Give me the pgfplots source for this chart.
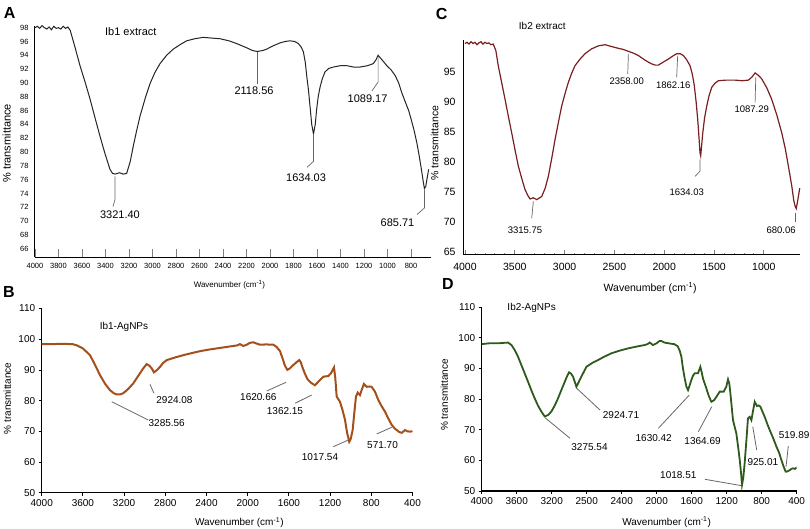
\documentclass[border=0pt]{standalone}
\usepackage{fontspec}
\setmainfont{Liberation Sans}
\usepackage{pgfplots}
\pgfplotsset{compat=1.18}
\definecolor{curveA}{HTML}{2A2222}
\definecolor{curveC}{HTML}{7A1F1F}
\definecolor{curveB}{HTML}{A5501A}
\definecolor{curveD}{HTML}{2E5A1C}
\definecolor{lead}{HTML}{666666}
\pgfplotsset{
  every axis/.append style={scale only axis, clip=false,
    axis x line*=bottom, axis y line*=left,
    /pgf/number format/1000 sep={},
    /pgf/number format/assume math mode=true,
    x dir=reverse},
}
\begin{document}
\begin{tikzpicture}
\useasboundingbox (0pt,0pt) rectangle (810pt,-529pt);

% ---------------- Panel A ----------------
\begin{axis}[at={(35pt,-257pt)}, anchor=south west, width=396pt, height=231.4pt,
  xmin=630, xmax=4000, ymin=64.8, ymax=98.3,
  axis line style={-, line width=1pt},
  xtick={800,1000,...,4000}, ytick={66,68,...,98},
  tick label style={font=\fontsize{7.5}{8}\selectfont},
  yticklabel style={xshift=-3pt},
  xticklabel style={yshift=-3pt},
  ytick style={draw=none}, xtick style={draw=gray, line width=0.8pt},
  tick align=inside, major tick length=8pt,
  xlabel={Wavenumber (cm\textsuperscript{-1})},
  xlabel style={font=\fontsize{8}{9}\selectfont, at={(axis description cs:0.491,-0.121)}, anchor=center},
  ylabel={\% transmittance},
  ylabel style={font=\fontsize{11}{12}\selectfont, at={(axis description cs:-0.0715,0.491)}, anchor=center},
]
\addplot[color=curveA, line width=1pt] coordinates {
(4000,98.0) (3980,98.2) (3960,97.9) (3940,98.3) (3920,98.0) (3900,97.8) (3880,98.1)
(3860,97.7) (3840,98.2) (3820,97.9) (3800,98.0) (3780,97.8) (3760,98.2) (3740,97.9)
(3720,98.1) (3700,97.6) (3660,95.2) (3617,92.5) (3575,90.2) (3532,87.7) (3490,85.0)
(3447,82.3) (3405,79.8) (3362,77.5) (3340,76.9) (3319,76.8) (3280,77.0) (3250,76.8)
(3220,76.9) (3190,78.6) (3163,80.9) (3135,83.1) (3106,85.2) (3060,87.9) (3021,89.9)
(2980,91.5) (2936,92.8) (2880,94.0) (2823,94.9) (2760,95.6) (2709,96.1) (2640,96.4)
(2567,96.6) (2500,96.5) (2426,96.4) (2350,96.1) (2284,95.7) (2200,95.1) (2150,94.7)
(2110,94.55) (2060,94.7) (2028,94.9) (1970,95.4) (1915,95.8) (1870,96.0) (1830,96.1)
(1790,96.0) (1759,95.7) (1735,95.2) (1716,94.5) (1700,93.0) (1688,91.1) (1673,89.0)
(1660,86.7) (1645,84.0) (1630,82.6) (1615,84.0) (1603,86.2) (1590,88.0) (1574,89.4)
(1555,90.6) (1532,91.6) (1500,92.1) (1461,92.3) (1400,92.5) (1347,92.5) (1290,92.3)
(1234,92.3) (1170,92.5) (1121,92.8) (1100,93.3) (1080,94.0) (1060,93.6) (1030,93.0)
(1006,92.5) (970,91.9) (936,91.1) (905,90.0) (879,88.6) (850,87.3) (820,86.0)
(800,84.8) (775,83.2) (750,81.3) (730,79.4) (710,77.3) (695,75.6) (686,74.7)
(675,75.0) (665,76.0) (650,77.5)};
\node[font=\fontsize{11}{12}\selectfont, inner sep=0] at (axis cs:3185,97.37) {Ib1 extract};
\draw[lead, line width=0.7pt] (axis cs:3319,76.47) -- (axis cs:3319,73.13) -- (axis cs:3336,72.11);
\node[font=\fontsize{11}{12}\selectfont, inner sep=0] at (axis cs:3277,70.95) {3321.40};
\draw[lead, line width=0.7pt] (axis cs:2111,94.5) -- (axis cs:2111,89.85);
\node[font=\fontsize{11}{12}\selectfont, inner sep=0] at (axis cs:2136,88.84) {2118.56};
\draw[lead, line width=0.7pt] (axis cs:1630,82.58) -- (axis cs:1630,78.65) -- (axis cs:1685,77.78);
\node[font=\fontsize{11}{12}\selectfont, inner sep=0] at (axis cs:1693,76.33) {1634.03};
\draw[lead, line width=0.7pt] (axis cs:1080,93.78) -- (axis cs:1080,90.15) -- (axis cs:1132,88.84);
\node[font=\fontsize{11}{12}\selectfont, inner sep=0] at (axis cs:1170,87.67) {1089.17};
\draw[lead, line width=0.7pt] (axis cs:686,74.5) -- (axis cs:686,71.9) -- (axis cs:749,70.95);
\node[font=\fontsize{11}{12}\selectfont, inner sep=0] at (axis cs:915,69.78) {685.71};
\end{axis}

% ---------------- Panel B ----------------
\begin{axis}[at={(41.7pt,-492.7pt)}, anchor=south west, width=370.8pt, height=184.2pt,
  xmin=400, xmax=4000, ymin=50, ymax=110,
  axis line style={-, line width=1.1pt},
  xtick={400,800,...,4000}, ytick={50,60,...,110},
  tick label style={font=\fontsize{10}{12}\selectfont},
  tick align=outside, major tick length=3pt, tick style={line width=0.8pt, black},
  xlabel={Wavenumber (cm\textsuperscript{-1})},
  xlabel style={font=\fontsize{10}{12}\selectfont, at={(axis description cs:0.533,-0.163)}, anchor=center},
  ylabel={\% transmittance},
  ylabel style={font=\fontsize{10}{12}\selectfont, at={(axis description cs:-0.0928,0.512)}, anchor=center},
]
\addplot[color=curveB, line width=2pt] coordinates {
(4000,98.4) (3900,98.4) (3800,98.5) (3700,98.4) (3660,98.0) (3600,97.0) (3531,94.8)
(3480,91.5) (3434,88.3) (3385,85.5) (3337,83.4) (3300,82.4) (3272,82.0) (3240,82.0)
(3208,82.4) (3160,83.8) (3111,85.6) (3060,88.2) (3014,90.5) (2981,91.9) (2955,91.4)
(2932,90.5) (2910,89.2) (2880,90.0) (2851,91.0) (2820,92.3) (2786,93.2) (2700,94.1)
(2625,94.8) (2540,95.5) (2463,96.1) (2380,96.6) (2301,97.0) (2220,97.4) (2140,97.8)
(2100,98.0) (2075,98.4) (2043,97.8) (2010,98.2) (1980,98.8) (1946,99.0) (1915,98.6)
(1880,98.2) (1820,98.3) (1751,98.2) (1720,97.5) (1686,96.1) (1660,93.6) (1640,91.5)
(1615,90.0) (1590,90.5) (1560,91.5) (1530,92.4) (1499,93.2) (1485,92.5) (1470,91.0)
(1445,88.8) (1420,87.0) (1385,85.8) (1347,85.0) (1310,86.3) (1266,87.8) (1240,87.9)
(1217,88.0) (1190,89.0) (1162,90.8) (1150,87.5) (1136,81.3) (1104,79.6) (1080,77.0)
(1055,73.7) (1035,69.5) (1014,66.6) (1000,67.5) (981,70.4) (965,76.0) (949,81.3)
(932,82.6) (910,81.8) (890,83.8) (872,85.4) (845,84.5) (820,84.6) (797,84.5)
(764,82.9) (732,80.2) (700,78.2) (667,76.4) (635,74.2) (602,72.1) (575,71.0)
(553,70.4) (530,69.8) (505,69.5) (490,69.9) (473,70.4) (450,70.0) (424,69.9) (400,70.0)};
\node[font=\fontsize{10}{12}\selectfont, inner sep=0] at (axis cs:3201,103.9) {Ib1-AgNPs};
\draw[lead, line width=0.8pt] (axis cs:3320,79.64) -- (axis cs:2965,73.68);
\node[font=\fontsize{10}{12}\selectfont, inner sep=0] at (axis cs:2786,72.61) {3285.56};
\draw[lead, line width=0.8pt] (axis cs:2949,85.31) -- (axis cs:2910,82.38);
\node[font=\fontsize{10}{12}\selectfont, inner sep=0] at (axis cs:2711,80.2) {2924.08};
\draw[lead, line width=0.8pt] (axis cs:1628,85.96) -- (axis cs:1815,83.13);
\node[font=\fontsize{10}{12}\selectfont, inner sep=0] at (axis cs:1897,81.07) {1620.66};
\draw[lead, line width=0.8pt] (axis cs:1379,81.82) -- (axis cs:1541,79.12);
\node[font=\fontsize{10}{12}\selectfont, inner sep=0] at (axis cs:1638,76.71) {1362.15};
\draw[lead, line width=0.8pt] (axis cs:1023,67.17) -- (axis cs:1169,64.98);
\node[font=\fontsize{10}{12}\selectfont, inner sep=0] at (axis cs:1298,61.73) {1017.54};
\draw[lead, line width=0.8pt] (axis cs:602,71.3) -- (axis cs:748,69.12);
\node[font=\fontsize{10}{12}\selectfont, inner sep=0] at (axis cs:691,65.54) {571.70};
\end{axis}

% ---------------- Panel C ----------------
\begin{axis}[at={(463pt,-254.8pt)}, anchor=south west, width=337.2pt, height=214.9pt,
  xmin=635, xmax=4020, ymin=64.5, ymax=100.3,
  axis line style={-, line width=1pt},
  xtick={1000,1500,...,4000}, ytick={65,70,...,95},
  minor x tick num=4,
  tick label style={font=\fontsize{10.5}{12}\selectfont},
  yticklabel style={xshift=-4pt},
  xticklabel style={yshift=-5pt},
  ytick style={draw=none}, xtick style={draw=gray, line width=0.8pt},
  tick align=inside, major tick length=5pt, minor tick length=2pt,
  xlabel={Wavenumber (cm\textsuperscript{-1})},
  xlabel style={font=\fontsize{10.5}{12}\selectfont, at={(axis description cs:0.555,-0.156)}, anchor=center},
  ylabel={\% transmittance},
  ylabel style={font=\fontsize{10.5}{12}\selectfont, at={(axis description cs:-0.0845,0.519)}, anchor=center},
]
\addplot[color=curveC, line width=1.2pt] coordinates {
(4000,99.7) (3980,99.9) (3960,99.6) (3940,100.0) (3920,99.7) (3900,99.9) (3880,99.5)
(3860,99.8) (3840,100.0) (3820,99.6) (3800,99.9) (3780,99.7) (3760,99.8) (3740,99.5)
(3716,99.6) (3690,98.5) (3666,96.0) (3632,93.2) (3598,90.4) (3565,87.6) (3531,84.8)
(3498,82.0) (3465,79.3) (3430,77.2) (3398,75.4) (3370,74.4) (3347,73.8) (3315,74.0)
(3280,73.7) (3250,74.0) (3230,74.2) (3195,75.6) (3163,77.6) (3130,80.5) (3096,83.7)
(3062,86.6) (3029,89.3) (2995,91.4) (2963,93.2) (2930,94.7) (2896,96.0) (2845,97.1)
(2795,98.0) (2730,98.8) (2662,99.3) (2594,99.5) (2530,99.2) (2461,98.9) (2410,98.7)
(2360,98.4) (2310,98.1) (2260,97.7) (2200,97.0) (2160,96.6) (2126,96.3) (2090,96.1)
(2059,96.1) (2010,96.6) (1959,97.1) (1915,97.6) (1875,98.0) (1840,98.0) (1808,97.7)
(1775,97.0) (1741,96.0) (1718,94.6) (1698,92.7) (1680,90.0) (1664,87.1) (1650,83.8)
(1641,81.5) (1634,81.0) (1625,82.6) (1613,84.8) (1595,87.3) (1573,89.3) (1550,91.0)
(1523,92.4) (1490,93.1) (1456,93.5) (1380,93.6) (1289,93.6) (1220,93.5) (1155,93.6)
(1120,94.1) (1088,94.8) (1055,94.4) (1021,93.8) (970,92.3) (921,90.4) (870,87.8)
(820,84.8) (785,82.2) (754,79.3) (720,76.0) (700,73.6) (686,72.6) (675,72.2)
(660,73.5) (640,75.6)};
\node[font=\fontsize{10}{12}\selectfont, inner sep=0] at (axis cs:3224,102.7) {Ib2 extract};
\draw[lead, line width=0.7pt] (axis cs:3314,73.39) -- (axis cs:3330,70.61);
\node[font=\fontsize{9.5}{12}\selectfont, inner sep=0] at (axis cs:3398,68.65) {3315.75};
\draw[lead, line width=0.7pt] (axis cs:2360,97.96) -- (axis cs:2366,94.61);
\node[font=\fontsize{9.5}{12}\selectfont, inner sep=0] at (axis cs:2377,93.49) {2358.00};
\draw[lead, line width=0.7pt] (axis cs:1865,97.68) -- (axis cs:1875,94.06);
\node[font=\fontsize{9.5}{12}\selectfont, inner sep=0] at (axis cs:1909,92.77) {1862.16};
\draw[lead, line width=0.7pt] (axis cs:1641,80.38) -- (axis cs:1641,78.42) -- (axis cs:1691,77.58);
\node[font=\fontsize{9.5}{12}\selectfont, inner sep=0] at (axis cs:1774,74.9) {1634.03};
\draw[lead, line width=0.7pt] (axis cs:1081,94.06) -- (axis cs:1088,89.87);
\node[font=\fontsize{9.5}{12}\selectfont, inner sep=0] at (axis cs:1122,88.75) {1087.29};
\draw[lead, line width=0.7pt] (axis cs:680,71.45) -- (axis cs:680,70.04);
\node[font=\fontsize{9.5}{12}\selectfont, inner sep=0] at (axis cs:827,68.65) {680.06};
\end{axis}

% ---------------- Panel D ----------------
\begin{axis}[at={(481.7pt,-491pt)}, anchor=south west, width=315pt, height=184pt,
  xmin=400, xmax=4000, ymin=50, ymax=110,
  axis line style={-, line width=1.1pt},
  xtick={400,800,...,4000},
  xticklabels={400,800,1200,1600,2000,2400,2500,3200,3600,4000},
  ytick={50,60,...,110},
  tick label style={font=\fontsize{10}{12}\selectfont},
  tick align=outside, major tick length=3pt, tick style={line width=0.8pt, black},
  xlabel={Wavenumber (cm\textsuperscript{-1})},
  xlabel style={font=\fontsize{10}{12}\selectfont, at={(axis description cs:0.587,-0.170)}, anchor=center},
  ylabel={\% transmittance},
  ylabel style={font=\fontsize{10}{12}\selectfont, at={(axis description cs:-0.119,0.522)}, anchor=center},
]
\addplot[color=curveD, line width=1.8pt] coordinates {
(4000,97.9) (3900,98.2) (3800,98.2) (3699,98.4) (3660,97.6) (3623,96.0) (3585,93.8)
(3547,91.1) (3508,88.3) (3470,85.6) (3432,82.8) (3394,80.2) (3356,77.8) (3318,75.9)
(3280,74.3) (3240,74.8) (3204,75.9) (3165,77.9) (3128,80.2) (3090,82.9) (3051,85.6)
(3025,87.4) (3002,88.7) (2980,88.3) (2956,87.3) (2935,85.5) (2918,84.0) (2890,85.6)
(2861,87.3) (2830,89.0) (2804,90.5) (2740,91.7) (2671,92.7) (2600,93.8) (2518,94.9)
(2420,95.8) (2328,96.5) (2230,97.1) (2137,97.6) (2105,97.9) (2080,98.4) (2042,97.6)
(2000,98.2) (1970,98.9) (1947,98.9) (1910,98.4) (1871,98.2) (1830,98.0) (1800,97.9)
(1760,97.2) (1738,95.8) (1718,93.8) (1700,90.0) (1680,86.7) (1660,84.0) (1642,82.9)
(1625,84.3) (1604,86.2) (1585,87.6) (1566,88.4) (1528,88.4) (1501,90.5) (1488,89.0)
(1471,86.7) (1433,83.5) (1405,81.0) (1375,79.1) (1345,79.6) (1318,80.7) (1280,82.4)
(1234,82.4) (1205,84.0) (1185,86.4) (1170,85.0) (1158,81.9) (1128,73.1) (1090,68.8)
(1070,64.5) (1051,60.1) (1035,55.5) (1025,52.0) (1010,54.5) (995,59.0) (975,66.5)
(957,73.7) (937,74.2) (918,73.1) (900,76.0) (880,79.1) (854,77.7) (835,77.9)
(815,77.5) (790,75.8) (766,74.2) (738,72.0) (709,69.9) (670,67.3) (632,64.5)
(600,62.4) (575,60.1) (550,58.0) (526,56.3) (505,56.4) (480,56.8) (460,57.2)
(442,57.4) (420,57.2) (404,57.7)};
\node[font=\fontsize{10}{12}\selectfont, inner sep=0] at (axis cs:3429,109.6) {Ib2-AgNPs};
\draw[lead, line width=0.8pt] (axis cs:2914,83.49) -- (axis cs:2648,76.41);
\node[font=\fontsize{10}{12}\selectfont, inner sep=0] at (axis cs:2408,74.78) {2924.71};
\draw[lead, line width=0.8pt] (axis cs:3276,73.9) -- (axis cs:2991,67.18);
\node[font=\fontsize{10}{12}\selectfont, inner sep=0] at (axis cs:2768,64.44) {3275.54};
\draw[lead, line width=0.8pt] (axis cs:1627,81.3) -- (axis cs:1981,70.44);
\node[font=\fontsize{10}{12}\selectfont, inner sep=0] at (axis cs:2034,67.18) {1630.42};
\draw[lead, line width=0.8pt] (axis cs:1371,77.49) -- (axis cs:1524,69.33);
\node[font=\fontsize{10}{12}\selectfont, inner sep=0] at (axis cs:1476,66.4) {1364.69};
\draw[lead, line width=0.8pt] (axis cs:902,70.97) -- (axis cs:857,63.37);
\node[font=\fontsize{10}{12}\selectfont, inner sep=0] at (axis cs:787,59.55) {925.01};
\draw[lead, line width=0.8pt] (axis cs:496,64.67) -- (axis cs:522,57.92);
\node[font=\fontsize{10}{12}\selectfont, inner sep=0] at (axis cs:430,68.26) {519.89};
\draw[lead, line width=0.8pt] (axis cs:1448,53.81) -- (axis cs:1028,51.73);
\node[font=\fontsize{10}{12}\selectfont, inner sep=0] at (axis cs:1753,55.22) {1018.51};
\end{axis}

% panel letters
\node[font=\bfseries\fontsize{16}{16}\selectfont, inner sep=0] at (9.7pt,-12.5pt) {A};
\node[font=\bfseries\fontsize{16}{16}\selectfont, inner sep=0] at (8.8pt,-292pt) {B};
\node[font=\bfseries\fontsize{16}{16}\selectfont, inner sep=0] at (441.7pt,-14.2pt) {C};
\node[font=\bfseries\fontsize{16}{16}\selectfont, inner sep=0] at (448pt,-284.2pt) {D};
\end{tikzpicture}
\end{document}
